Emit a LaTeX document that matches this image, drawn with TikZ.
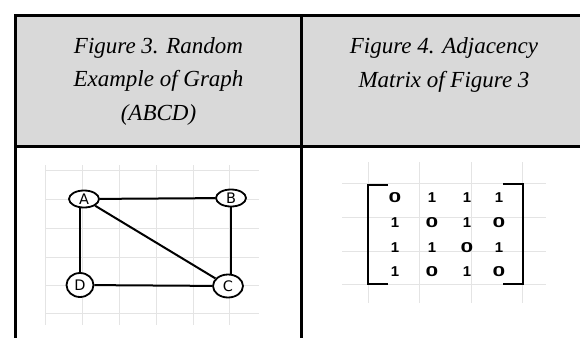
\documentclass[tikz,border=0pt]{standalone}
\usepackage{fontspec}
\usepackage{graphicx}
\setmainfont{Liberation Serif}
\newfontfamily\handfont{DejaVu Sans}
\newfontfamily\digitfont{Liberation Sans}
\usetikzlibrary{shapes.geometric}
\definecolor{hdrgray}{HTML}{D9D9D9}
\definecolor{gridgray}{HTML}{E4E4E4}
\newcommand\zr{\scalebox{1.75}[1.1]{0}}
\newcommand\on{\scalebox{1.15}[1.1]{1}}
\tikzset{
  rule/.style={line width=3pt, line join=miter},
  gridline/.style={gridgray, line width=0.9pt},
  hdr/.style={font=\fontsize{23}{33.5}\selectfont\itshape, align=center, anchor=base, inner sep=0pt},
  vertex/.style={ellipse, draw, line width=1.8pt, fill=white, inner sep=0pt,
    minimum width=30pt, minimum height=17pt, font=\handfont\fontsize{14.5}{14.5}\selectfont},
  edge/.style={line width=2pt},
  entry/.style={font=\digitfont\bfseries\fontsize{13}{13}\selectfont, inner sep=0pt},
  bracket/.style={line width=2pt, line join=miter}
}
\begin{document}
\begin{tikzpicture}[x=1pt,y=-1pt]
\useasboundingbox (0,0) rectangle (580,338);
\fill[white] (0,0) rectangle (580,338);
\fill[hdrgray] (15.5,15) rectangle (580,146.3);
% grids
\foreach \x in {45,82,119,156,193,229} \draw[gridline] (\x,165) -- (\x,325);
\foreach \y in {170,199,228,257,285,313} \draw[gridline] (45,\y) -- (259,\y);
\foreach \x in {368,419,471,522} \draw[gridline] (\x,162) -- (\x,303);
\foreach \y in {183,217,251,284} \draw[gridline] (342,\y) -- (546,\y);
% table rules
\draw[rule] (580,15) -- (15.5,15) -- (15.5,338);
\draw[rule] (301,15) -- (301,338);
\draw[rule] (15.5,146.3) -- (580,146.3);
% headers (anchored at the baseline of the last line)
\node[hdr] (h1) at (158.5,120) {Figure 3. Random\\Example of Graph\\(ABCD)};
\node[hdr] (h2) at (444,87) {Figure 4. Adjacency\\Matrix of Figure 3};
% graph
\node[vertex] (A) at (84,199) {A};
\node[vertex] (B) at (231,198) {B};
\node[vertex, minimum width=30pt, minimum height=23pt] (C) at (228,286) {C};
\node[vertex, minimum width=27pt, minimum height=24pt] (D) at (80,285) {D};
\draw[edge] (A) -- (B);
\draw[edge] (B.south) -- (B.south |- C.north);
\draw[edge] (A.south -| D.north) -- (D.north);
\draw[edge] (D) -- (C);
\draw[edge] (A) -- (C);
% matrix
\node[entry] (m11) at (395,198) {\zr};
\node[entry] (m12) at (432,198) {\on};
\node[entry] (m13) at (467,198) {\on};
\node[entry] (m14) at (499,198) {\on};
\node[entry] (m21) at (395,223) {\on};
\node[entry] (m22) at (432,223) {\zr};
\node[entry] (m23) at (467,223) {\on};
\node[entry] (m24) at (499,223) {\zr};
\node[entry] (m31) at (395,248) {\on};
\node[entry] (m32) at (432,248) {\on};
\node[entry] (m33) at (467,248) {\zr};
\node[entry] (m34) at (499,248) {\on};
\node[entry] (m41) at (395,272) {\on};
\node[entry] (m42) at (432,272) {\zr};
\node[entry] (m43) at (467,272) {\on};
\node[entry] (m44) at (499,272) {\zr};
\draw[bracket] (388,184.5) -- (367.5,184.5) -- (367.5,283.5) -- (388,283.5);
\draw[bracket] (503,184) -- (523,184) -- (523,284) -- (503,284);
\end{tikzpicture}
\end{document}
